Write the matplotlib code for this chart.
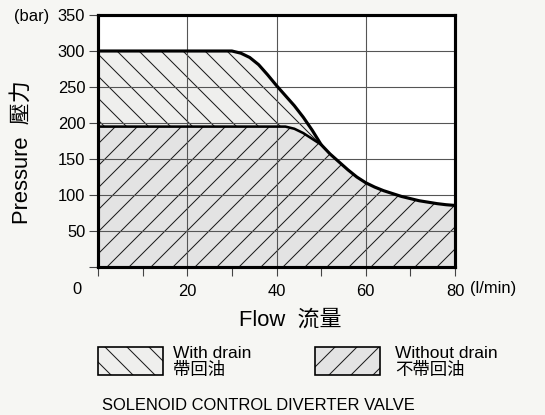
import matplotlib
matplotlib.use('agg')
import matplotlib.pyplot as plt
from matplotlib.patches import Rectangle

# flow (l/min) / pressure (bar)
flow_drain = [0, 30, 32, 34, 36, 38, 40, 42, 44, 46, 48, 50, 52, 54, 56, 58, 60, 62, 64, 66, 68, 70, 72, 74, 76, 78, 80]
pres_drain = [300, 300, 297, 291, 281, 267, 252, 238, 224, 208, 190, 170, 157, 146, 135, 125, 117, 111, 106, 102, 98, 95, 92, 90, 88, 86.5, 85.5]
flow_nodrain = [0, 40, 42, 44, 46, 48, 50, 52, 54, 56, 58, 60, 62, 64, 66, 68, 70, 72, 74, 76, 78, 80]
pres_nodrain = [195, 195, 195, 192, 186, 178, 170, 157, 146, 135, 125, 117, 111, 106, 102, 98, 95, 92, 90, 88, 86.5, 85.5]

x_ticks = [0, 20, 40, 60, 80]
x_labels = ['', '20', '40', '60', '80']
y_ticks = [0, 50, 100, 150, 200, 250, 300, 350]
y_labels = ['', '50', '100', '150', '200', '250', '300', '350']

legend_names = ['With drain\n帶回油', 'Without drain\n不帶回油']

FONT = ['Liberation Sans', 'Noto Sans CJK TC', 'DejaVu Sans']
plt.rcParams['font.family'] = FONT
plt.rcParams['hatch.linewidth'] = 0.55

DPI = 132
W, H = 545, 415
BG = '#f6f6f3'
C_DRAIN = '#efefed'
C_NODRAIN = '#e3e3e3'
HATCH_C = '#1a1a1a'

fig = plt.figure(figsize=(W / DPI, H / DPI), dpi=DPI, facecolor=BG)
ax = fig.add_axes([98 / W, 1 - 267 / H, (455 - 98) / W, (267 - 15) / H])
ax.set_facecolor('white')

# with drain region first, then the no-drain region covers its lower part
ax.fill_between(flow_drain, 0, pres_drain, facecolor=C_DRAIN, edgecolor=HATCH_C,
                hatch='\\\\', linewidth=0, zorder=1)
ax.fill_between(flow_nodrain, 0, pres_nodrain, facecolor=C_NODRAIN, edgecolor=HATCH_C,
                hatch='//', linewidth=0, zorder=1.5)

ax.plot(flow_drain, pres_drain, color='black', lw=1.7, zorder=4)
ax.plot(flow_nodrain[:7], pres_nodrain[:7], color='black', lw=1.4, zorder=4)

ax.set_xlim(0, 80)
ax.set_ylim(0, 350)
ax.set_xticks(x_ticks)
ax.set_xticklabels(x_labels)
ax.set_xticks([10, 30, 50, 70], minor=True)
ax.set_yticks(y_ticks)
ax.set_yticklabels(y_labels)

ax.grid(True, which='major', color='#555555', lw=0.6, zorder=3)
ax.set_axisbelow(False)
for s in ax.spines.values():
    s.set_linewidth(1.7)
    s.set_zorder(5)

ax.tick_params(axis='both', which='both', direction='out', length=5, width=0.6,
               color='#444444', labelsize=9)
ax.tick_params(axis='y', pad=2)
ax.tick_params(axis='x', pad=4)

ax.annotate('0', xy=(0, 0), xycoords=('data', 'axes fraction'), xytext=(-21, -22),
            textcoords='offset pixels', ha='center', va='center', fontsize=9)
ax.annotate('(l/min)', xy=(80, 0), xycoords=('data', 'axes fraction'), xytext=(15, -22),
            textcoords='offset pixels', ha='left', va='center', fontsize=9)

fig.text(32 / W, 1 - 17 / H, '(bar)', ha='center', va='center', fontsize=9)
fig.text(22 / W, 1 - 152 / H, 'Pressure  壓力', rotation=90, ha='center', va='center',
         fontsize=12)
fig.text(290 / W, 1 - 320 / H, 'Flow  流量', ha='center', va='center', fontsize=12)

# legend drawn by hand
boxes = [(98, 173, C_DRAIN, '\\\\'), (315, 395, C_NODRAIN, '//')]
for (bx, tx, col, hatch), name in zip(boxes, legend_names):
    fig.add_artist(Rectangle((bx / W, 1 - 375 / H), 65 / W, 28 / H, transform=fig.transFigure,
                             facecolor=col, edgecolor=HATCH_C, hatch=hatch, lw=0))
    fig.add_artist(Rectangle((bx / W, 1 - 375 / H), 65 / W, 28 / H, transform=fig.transFigure,
                             facecolor='none', edgecolor='black', lw=0.9))
    fig.text(tx / W, 1 - 362 / H, name, ha='left', va='center', fontsize=9.5,
             linespacing=1.0)

fig.text(102 / W, 1 - 406 / H, 'SOLENOID CONTROL DIVERTER VALVE', ha='left', va='center',
         fontsize=9)

fig.savefig('out.png', dpi=DPI, facecolor=BG)
